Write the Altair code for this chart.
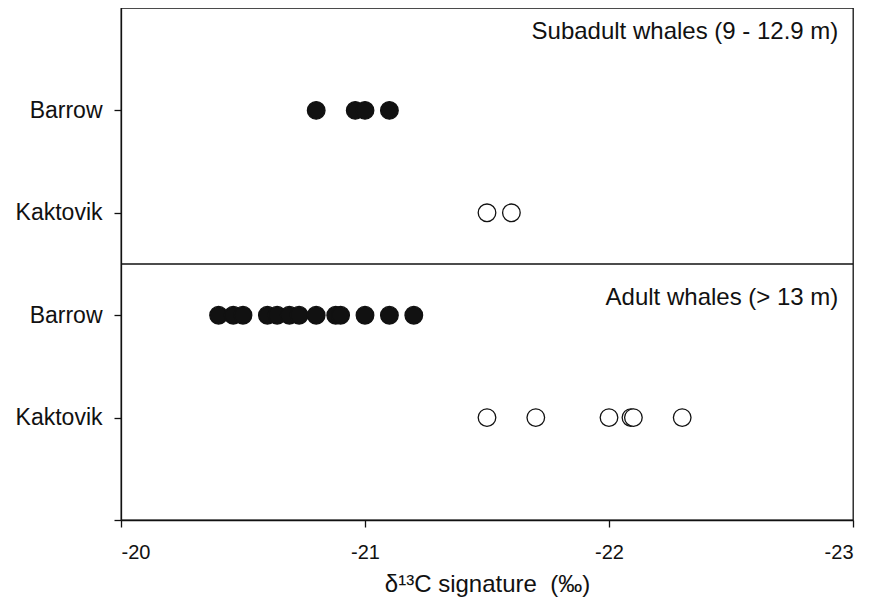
import altair as alt
import pandas as pd

# Data
sub_barrow = [-20.80, -20.96, -21.00, -21.10]
sub_kaktovik = [-21.50, -21.60]
adult_barrow = [-20.40, -20.46, -20.50, -20.60, -20.64, -20.69, -20.73,
                -20.80, -20.88, -20.90, -21.00, -21.10, -21.20]
adult_kaktovik = [-21.50, -21.70, -22.00, -22.09, -22.10, -22.30]

groups = ["Subadult", "Adult"]
sites = ["Barrow", "Kaktovik"]
panel_labels = ["Subadult whales (9 - 12.9 m)", "Adult whales (> 13 m)"]
x_ticks = [-20, -21, -22, -23]

rows = []
for g, s, vals in [("Subadult", "Barrow", sub_barrow),
                   ("Subadult", "Kaktovik", sub_kaktovik),
                   ("Adult", "Barrow", adult_barrow),
                   ("Adult", "Kaktovik", adult_kaktovik)]:
    for v in vals:
        rows.append({"group": g, "site": s, "d13C": v})
df = pd.DataFrame(rows)

ann = pd.DataFrame({"label": panel_labels, "x": [-22.94, -22.94], "y": [4.70, 2.10]})
sep = pd.DataFrame({"y": [2.5]})

FONT = "Liberation Sans"

xscale = alt.Scale(domain=[-23, -20], reverse=True, nice=False, zero=False)
yscale = alt.Scale(domain=[0, 5], nice=False, zero=False)

label_expr = ("datum.value == 4 ? 'Barrow' : datum.value == 3 ? 'Kaktovik' : "
              "datum.value == 2 ? 'Barrow' : datum.value == 1 ? 'Kaktovik' : ''")

points = alt.Chart(df).transform_calculate(
    pos="(datum.group == 'Subadult' ? 3 : 1) + (datum.site == 'Barrow' ? 1 : 0)"
).mark_point(shape="circle", filled=False, size=310, stroke="#111", strokeWidth=1.3, opacity=1).encode(
    x=alt.X("d13C:Q", scale=xscale,
            axis=alt.Axis(values=x_ticks, title="δ¹³C signature \u00a0(‰)", grid=False,
                          labelExpr="'' + datum.value",
                          tickSize=7, labelPadding=15, titlePadding=10,
                          labelFontSize=20, titleFontSize=24)),
    y=alt.Y("pos:Q", scale=yscale,
            axis=alt.Axis(values=[0, 1, 2, 3, 4], labelExpr=label_expr, title=None, grid=False,
                          tickSize=7, labelPadding=12, labelFontSize=23)),
    fill=alt.Color("site:N", scale=alt.Scale(domain=sites, range=["#111", "white"]), legend=None),
)

rule = alt.Chart(sep).mark_rule(color="#111", strokeWidth=1.3).encode(y=alt.Y("y:Q", scale=yscale))

text = alt.Chart(ann).mark_text(align="right", baseline="alphabetic", fontSize=24,
                                font=FONT, color="#111").encode(
    x=alt.X("x:Q", scale=xscale), y=alt.Y("y:Q", scale=yscale), text="label:N")

chart = alt.layer(rule, points, text).properties(
    width=732, height=512,
    autosize=alt.AutoSizeParams(type="none"),
    padding={"left": 113, "top": 0, "right": 9, "bottom": 80},
).configure_view(stroke="#111", strokeWidth=1.3).configure_axis(
    domainColor="#111", tickColor="#111", labelColor="#111", titleColor="#111",
    labelFont=FONT, titleFont=FONT, titleFontWeight="normal", domainWidth=1.3, tickWidth=1.3
)

chart.save("out.html", embed_options={"renderer": "svg", "actions": False})
